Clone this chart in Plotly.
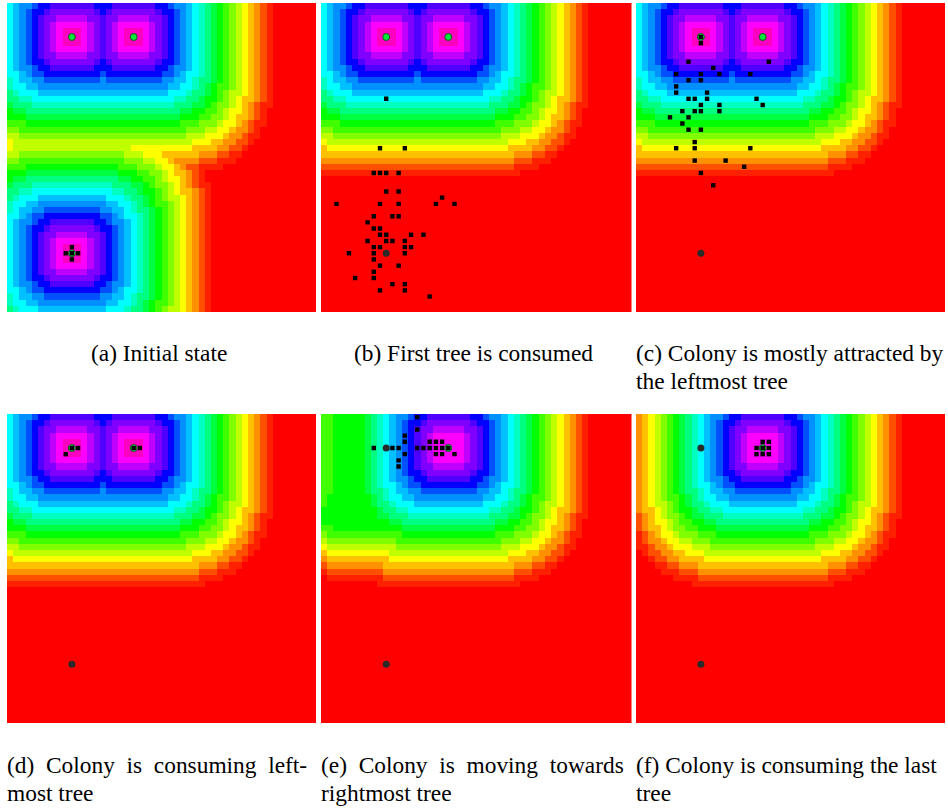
import plotly.graph_objects as go

# ---------- colour levels ----------
LEVEL_KEYS = "0123456789abcdefghijklmn"
LEVEL_COLOURS = ["#ff00c0", "#ff00c0", "#ff00ff", "#c000ff", "#8000ff", "#5000ff", "#0000ff", "#0050ff",
                 "#0090ff", "#00c0ff", "#00ffff", "#00ffc0", "#00ff80", "#00ff40", "#00ff00", "#40ff00",
                 "#80ff00", "#c0ff00", "#ffff00", "#ffc000", "#ff9000", "#ff5000", "#ff2000", "#ff0000"]

RED_ROW = "nnnnnnnnnnnnnnnnnnnnnnnnnnnnnnnnnnnnnnnnnnnnnnnnnn"

# ---------- cell levels, row by row ----------
FIELD_TWO_TOP = [
    "a9887665555 55566 6555 5555667889abcdefghijklmnnnnnnn",
    "a9876654444 44456 5444 4444566789abcdefghijklmnnnnnnn",
    "a9876544333 33445 4433 3334456789abcdefghijklmnnnnnnn",
    "a9876543222 22345 4322 2223456789abcdefghijklmnnnnnnn",
    "a9876543211 12345 4321 1123456789abcdefghijklmnnnnnnn",
    "a9876543210 12345 4321 0123456789abcdefghijklmnnnnnnn",
    "a9876543211 12345 4321 1123456789abcdefghijklmnnnnnnn",
    "a9876543222 22345 4322 2223456789abcdefghijklmnnnnnnn",
    "a9876544333 33445 4433 3334456789abcdefghijklmnnnnnnn",
    "a9876654444 44456 5444 4444566789abcdefghijklmnnnnnnn",
    "a9887665555 55566 6555 5555667889abcdefghijklmnnnnnnn",
    "aa987766666 66667 6666 666667789aabcdefghijklmnnnnnnn",
    "ba998877777 77778 7777 777778899abccdefghijklmnnnnnnn",
    "baa99888888 88888 8888 88888899aabcdeffghijklmnnnnnnn",
    "cbaaa999999 99999 9999 999999aaabccdefghhijklmnnnnnnn",
    "ccbbaaaaaaa aaaaa aaaa aaaaaaabbccdeefghijjklmnnnnnnn",
    "dcccbbbbbbb bbbbb bbbb bbbbbbbcccddefgghijklmmnnnnnnn",
    "eddcccccccc ccccc cccc ccccccccddeeffghiijklmnnnnnnnn",
    "eeedddddddd ddddd dddd ddddddddeeeffgghijjklmnnnnnnnn",
    "fffeeeeeeee eeeee eeee eeeeeeeefffggghiijklmmnnnnnnnn",
    "ggfffffffff fffff ffff fffffffffggghhiijkklmnnnnnnnnn",
    "hhggggggggg ggggg gggg ggggggggghhhiiijkklmmnnnnnnnnn",
    "ihhhhhhhhhh hhhhh hhhh hhhhhhhhhhiiijjkkllmnnnnnnnnnn",
]
FIELD_TWO_LOW = [
    "jiiiiiiiiii iiiii iiii iiiiiiiiiijjjjkkllmnnnnnnnnnnn",
    "jjjjjjjjjjj jjjjj jjjj jjjjjjjjjjjkkkllmmnnnnnnnnnnnn",
    "kkkkkkkkkkk kkkkk kkkk kkkkkkkkkkklllmmmnnnnnnnnnnnnn",
    "lllllllllll lllll llll lllllllllllmmmmnnnnnnnnnnnnnnn",
    "mmmmmmmmmmm mmmmm mmmm mmmmmmmmmmmmnnnnnnnnnnnnnnnnnn",
]
FIELD_TWO = FIELD_TWO_TOP + FIELD_TWO_LOW + [RED_ROW] * 22

FIELD_THREE = FIELD_TWO_TOP + [
    "i hhhhhhhhhhhhhhhhhhh iiiiiiiiii jjjj kk ll m nnnnnnnnnnn",
    "hh ggggggggggggggggg hhh iii jjjjjj kkk ll mm nnnnnnnnnnnn",
    "gg fffffffffffffffff ggg hh ii j kkkk lll mmm nnnnnnnnnnnnn",
    "fff eeeeeeeeeeeeeee fff ggg h ii j k ll mmmm nnnnnnnnnnnnnnn",
    "eee ddddddddddddddd eee ff gg h i jj k l m nnnnnnnnnnnnnnnnnn",
    "eddcccccccc cccccccddeeffghiijklmnnnnnnnn nnnnnnnnnn",
    "dcccbbbbbbb bbbbbbcccddefgghijklmmnnnnnnn nnnnnnnnnn",
    "ccbbaaaaaaa aaaaaabbccdeefghijjklmnnnnnnn nnnnnnnnnn",
    "cbaaa999999 99999aaabccdefghhijklmnnnnnnn nnnnnnnnnn",
    "baa99888888 8888899aabcdeffghijklmnnnnnnn nnnnnnnnnn",
    "ba998877777 77778899abccdefghijklmnnnnnnn nnnnnnnnnn",
    "aa987766666 66667789aabcdefghijklmnnnnnnn nnnnnnnnnn",
    "a9887665555 555667889abcdefghijklmnnnnnnn nnnnnnnnnn",
    "a9876654444 444566789abcdefghijklmnnnnnnn nnnnnnnnnn",
    "a9876544333 334456789abcdefghijklmnnnnnnn nnnnnnnnnn",
    "a9876543222 223456789abcdefghijklmnnnnnnn nnnnnnnnnn",
    "a9876543211 123456789abcdefghijklmnnnnnnn nnnnnnnnnn",
    "a9876543210 123456789abcdefghijklmnnnnnnn nnnnnnnnnn",
    "a9876543211 123456789abcdefghijklmnnnnnnn nnnnnnnnnn",
    "a9876543222 223456789abcdefghijklmnnnnnnn nnnnnnnnnn",
    "a9876544333 334456789abcdefghijklmnnnnnnn nnnnnnnnnn",
    "a9876654444 444566789abcdefghijklmnnnnnnn nnnnnnnnnn",
    "a9887665555 555667889abcdefghijklmnnnnnnn nnnnnnnnnn",
    "aa987766666 66667789aabcdefghijklmnnnnnnn nnnnnnnnnn",
    "ba998877777 77778899abccdefghijklmnnnnnnn nnnnnnnnnn",
    "baa99888888 8888899aabcdeffghijklmnnnnnnn nnnnnnnnnn",
    "cbaaa999999 99999aaabccdefghhijklmnnnnnnn nnnnnnnnnn",
]

FIELD_MOVING = [
    "ffeeeeedcba988766555 5555667889abcdefghijklmnnnnnnn",
    "ffeeeeedcba987665444 4444566789abcdefghijklmnnnnnnn",
    "ffeeeeedcba987654433 3334456789abcdefghijklmnnnnnnn",
    "ffeeeeedcba987654322 2223456789abcdefghijklmnnnnnnn",
    "ffeeeeedcba987654322 2223456789abcdefghijklmnnnnnnn",
    "ffeeeeedcba987654322 2223456789abcdefghijklmnnnnnnn",
    "ffeeeeedcba987654322 2223456789abcdefghijklmnnnnnnn",
    "ffeeeeedcba987654322 2223456789abcdefghijklmnnnnnnn",
    "ffeeeeedcba987654433 3334456789abcdefghijklmnnnnnnn",
    "ffeeeeedcba987665444 4444566789abcdefghijklmnnnnnnn",
    "ffeeeeedcba988766555 5555667889abcdefghijklmnnnnnnn",
    "ffeeeeedcbaa98776666 666667789aabcdefghijklmnnnnnnn",
    "ffeeeeedccba99887777 777778899abccdefghijklmnnnnnnn",
    "feeeeeeedcbaa9988888 88888899aabcdeffghijklmnnnnnnn",
    "feeeeeeedccbaaa99999 999999aaabccdefghhijklmnnnnnnn",
    "eeeeeeeeedccbbaaaaaa aaaaaaabbccdeefghijjklmnnnnnnn",
    "eeeeeeeeeddcccbbbbbb bbbbbbbcccddefgghijklmmnnnnnnn",
    "eeeeeeeeeeeddccccccc ccccccccddeeffghiijklmnnnnnnnn",
    "ffeeeeeeeeeeeddddddd ddddddddeeeffgghijjklmnnnnnnnn",
    "gffffffffffffeeeeeee eeeeeeeefffggghiijklmmnnnnnnnn",
    "hgggggggggggffffffff fffffffffggghhiijkklmnnnnnnnnn",
    "ihhhhhhhhhhhgggggggg ggggggggghhhiiijkklmmnnnnnnnnn",
    "jiiiiiiiiiihhhhhhhhh hhhhhhhhhhiiijjkkllmnnnnnnnnnn",
    "kjjjjjjjjjjiiiiiiiii iiiiiiiiiijjjjkkllmnnnnnnnnnnn",
    "lkkkkkkkkkjjjjjjjjjj jjjjjjjjjjjkkkllmmnnnnnnnnnnnn",
    "mlllllllllkkkkkkkkkk kkkkkkkkkkklllmmmnnnnnnnnnnnnn",
    "nmmmmmmmmmllllllllll lllllllllllmmmmnnnnnnnnnnnnnnn",
    "nnnnnnnnnmmmmmmmmmmm mmmmmmmmmmmmnnnnnnnnnnnnnnnnnn",
] + [RED_ROW] * 22

FIELD_ONE = [
    "kjihgfedcba988766555 5555667889abcdefghijklmnnnnnnn",
    "kjihgfedcba987665444 4444566789abcdefghijklmnnnnnnn",
    "kjihgfedcba987654433 3334456789abcdefghijklmnnnnnnn",
    "kjihgfedcba987654322 2223456789abcdefghijklmnnnnnnn",
    "kjihgfedcba987654322 2223456789abcdefghijklmnnnnnnn",
    "kjihgfedcba987654322 2223456789abcdefghijklmnnnnnnn",
    "kjihgfedcba987654322 2223456789abcdefghijklmnnnnnnn",
    "kjihgfedcba987654322 2223456789abcdefghijklmnnnnnnn",
    "kjihgfedcba987654433 3334456789abcdefghijklmnnnnnnn",
    "kjihgfedcba987665444 4444566789abcdefghijklmnnnnnnn",
    "kjihgfedcba988766555 5555667889abcdefghijklmnnnnnnn",
    "kjihgfedcbaa98776666 666667789aabcdefghijklmnnnnnnn",
    "kjihgfedccba99887777 777778899abccdefghijklmnnnnnnn",
    "kjihgffedcbaa9988888 88888899aabcdeffghijklmnnnnnnn",
    "kjihhgfedccbaaa99999 999999aaabccdefghhijklmnnnnnnn",
    "kjjihgfeedccbbaaaaaa aaaaaaabbccdeefghijjklmnnnnnnn",
    "lkjihggfeddcccbbbbbb bbbbbbbcccddefgghijklmmnnnnnnn",
    "lkjiihgffeeddccccccc ccccccccddeeffghiijklmnnnnnnnn",
    "lkjjihggffeeeddddddd ddddddddeeeffgghijjklmnnnnnnnn",
    "mlkjiihgggfffeeeeeee eeeeeeeefffggghiijklmmnnnnnnnn",
    "mlkkjiihhgggffffffff fffffffffggghhiijkklmnnnnnnnnn",
    "mmlkkjiiihhhgggggggg ggggggggghhhiiijkklmmnnnnnnnnn",
    "nmllkkjjiiihhhhhhhhh hhhhhhhhhhiiijjkkllmnnnnnnnnnn",
    "nnmllkkjjjjiiiiiiiii iiiiiiiiiijjjjkkllmnnnnnnnnnnn",
    "nnnmmllkkkjjjjjjjjjj jjjjjjjjjjjkkkllmmnnnnnnnnnnnn",
    "nnnnmmmlllkkkkkkkkkk kkkkkkkkkkklllmmmnnnnnnnnnnnnn",
    "nnnnnnmmmmllllllllll lllllllllllmmmmnnnnnnnnnnnnnnn",
    "nnnnnnnnnmmmmmmmmmmm mmmmmmmmmmmmnnnnnnnnnnnnnnnnnn",
] + [RED_ROW] * 22

# ---------- trees (column, row) ----------
A_TREES_LIVE_COL = [10, 20, 10]
A_TREES_LIVE_ROW = [5, 5, 40]
A_TREES_DEAD_COL = []
A_TREES_DEAD_ROW = []
B_TREES_LIVE_COL = [10, 20]
B_TREES_LIVE_ROW = [5, 5]
B_TREES_DEAD_COL = [10]
B_TREES_DEAD_ROW = [40]
E_TREES_LIVE_COL = [20]
E_TREES_LIVE_ROW = [5]
E_TREES_DEAD_COL = [10, 10]
E_TREES_DEAD_ROW = [5, 40]

# ---------- ants (column, row) ----------
A_ANTS_COL = [10, 9, 10, 11, 10]
A_ANTS_ROW = [39, 40, 40, 40, 41]
B_ANTS_COL = [10, 9, 13, 8, 9, 10, 12, 10, 12, 19, 2, 9, 12, 18, 21, 8, 11, 12, 7, 8, 9, 9, 10, 14, 16,
              7, 10, 11, 13, 8, 9, 13, 14, 4, 8, 13, 8, 9, 12, 8, 5, 8, 11, 13, 9, 13, 17]
B_ANTS_ROW = [15, 23, 23, 27, 27, 27, 27, 30, 30, 31, 32, 32, 32, 32, 32, 34, 34, 34, 35, 36, 36, 37, 37, 37, 37,
              38, 38, 38, 38, 39, 39, 39, 39, 40, 40, 40, 41, 42, 42, 43, 44, 44, 45, 45, 46, 46, 47]
C_ANTS_COL = [10, 10, 8, 21, 12, 6, 10, 13, 18, 8, 10, 6, 6, 11, 8, 9, 11, 19, 10, 13, 20, 7, 9, 10, 13,
              5, 8, 7, 8, 10, 9, 6, 9, 18, 9, 14, 17, 10, 12]
C_ANTS_ROW = [5, 6, 9, 9, 10, 11, 11, 11, 11, 12, 12, 13, 14, 14, 15, 15, 15, 15, 16, 16, 16, 17, 17, 17, 17,
              18, 18, 19, 20, 20, 22, 23, 23, 23, 25, 25, 26, 27, 29]
D_ANTS_COL = [10, 11, 9, 20, 21]
D_ANTS_ROW = [5, 5, 6, 5, 5]
E_ANTS_COL = [15, 15, 13, 13, 17, 18, 19, 8, 11, 12, 15, 16, 17, 18, 19, 20, 13, 18, 19, 21, 12, 12]
E_ANTS_ROW = [0, 2, 3, 4, 4, 4, 4, 5, 5, 5, 5, 5, 5, 5, 5, 5, 6, 6, 6, 6, 7, 8]
F_ANTS_COL = [20, 21, 19, 20, 21, 19, 20, 21]
F_ANTS_ROW = [4, 4, 5, 5, 5, 6, 6, 6]

# ---------- captions ----------
CAPTIONS = [
    "(a) Initial state",
    "(b) First tree is consumed",
    "(c) Colony is mostly attracted by",
    "the leftmost tree",
    "(d)\u00a0\u00a0Colony\u00a0\u00a0is\u00a0\u00a0consuming\u00a0\u00a0left-",
    "most tree",
    "(e)\u00a0\u00a0Colony\u00a0\u00a0is\u00a0\u00a0moving\u00a0\u00a0towards",
    "rightmost tree",
    "(f) Colony is consuming the last",
    "tree",
]

# ---------- layout in page pixels ----------
W, H = 948, 808
PANELS = [
    (7, 316, 3, 312, FIELD_THREE, A_TREES_LIVE_COL, A_TREES_LIVE_ROW, A_TREES_DEAD_COL, A_TREES_DEAD_ROW, A_ANTS_COL, A_ANTS_ROW),
    (321, 631.5, 3, 312, FIELD_TWO, B_TREES_LIVE_COL, B_TREES_LIVE_ROW, B_TREES_DEAD_COL, B_TREES_DEAD_ROW, B_ANTS_COL, B_ANTS_ROW),
    (636, 945, 3, 312, FIELD_TWO, B_TREES_LIVE_COL, B_TREES_LIVE_ROW, B_TREES_DEAD_COL, B_TREES_DEAD_ROW, C_ANTS_COL, C_ANTS_ROW),
    (7, 316, 414, 723, FIELD_TWO, B_TREES_LIVE_COL, B_TREES_LIVE_ROW, B_TREES_DEAD_COL, B_TREES_DEAD_ROW, D_ANTS_COL, D_ANTS_ROW),
    (321, 631.5, 414, 723, FIELD_MOVING, E_TREES_LIVE_COL, E_TREES_LIVE_ROW, E_TREES_DEAD_COL, E_TREES_DEAD_ROW, E_ANTS_COL, E_ANTS_ROW),
    (636, 945, 414, 723, FIELD_ONE, E_TREES_LIVE_COL, E_TREES_LIVE_ROW, E_TREES_DEAD_COL, E_TREES_DEAD_ROW, F_ANTS_COL, F_ANTS_ROW),
]
CAPTION_X = [91, 354, 636, 636, 7, 7, 321, 321, 636, 636]
CAPTION_Y = [353, 353, 353, 381, 765, 793, 765, 793, 765, 793]


def decode(rows):
    out = []
    for row in rows:
        clean = row.replace(" ", "").ljust(50, "n")[:50]
        out.append([LEVEL_KEYS.index(ch) for ch in clean])
    return out


scale = [[i / 23, c] for i, c in enumerate(LEVEL_COLOURS)]
fig = go.Figure()
layout = {}
for i, (x0, x1, y0, y1, field, lc, lr, dc, dr, ac, ar) in enumerate(PANELS, start=1):
    xname, yname = f"x{i}", f"y{i}"
    fig.add_trace(go.Heatmap(z=decode(field), xaxis=xname, yaxis=yname, colorscale=scale, zmin=0, zmax=23,
                             showscale=False, hoverinfo="skip"))
    fig.add_trace(go.Scatter(x=lc, y=lr, xaxis=xname, yaxis=yname, mode="markers", showlegend=False,
                             marker=dict(symbol="circle", size=7, color="#00e83a", line=dict(color="#1c4f25", width=1))))
    fig.add_trace(go.Scatter(x=dc, y=dr, xaxis=xname, yaxis=yname, mode="markers", showlegend=False,
                             marker=dict(symbol="circle", size=7, color="#2a2a2a", line=dict(width=0))))
    fig.add_trace(go.Scatter(x=ac, y=ar, xaxis=xname, yaxis=yname, mode="markers", showlegend=False,
                             marker=dict(symbol="square", size=4.4, color="#000000", line=dict(width=0))))
    layout[f"xaxis{i}"] = dict(domain=[x0 / W, x1 / W], range=[-0.5, 49.5], visible=False, anchor=yname, fixedrange=True)
    layout[f"yaxis{i}"] = dict(domain=[1 - y1 / H, 1 - y0 / H], range=[49.5, -0.5], visible=False, anchor=xname, fixedrange=True)

annotations = [
    dict(text=t, x=px / W, y=1 - py / H, xref="paper", yref="paper", xanchor="left", yanchor="middle",
         showarrow=False, xshift=-2, font=dict(family="Liberation Serif", size=23.4, color="#000000"))
    for t, px, py in zip(CAPTIONS, CAPTION_X, CAPTION_Y)
]

fig.update_layout(width=W, height=H, margin=dict(l=0, r=0, t=0, b=0), paper_bgcolor="white", plot_bgcolor="white",
                  showlegend=False, annotations=annotations, **layout)
fig.write_html("out.html", config={"displayModeBar": False},
               post_script="document.body.style.margin='0';document.documentElement.style.overflow='hidden';")
